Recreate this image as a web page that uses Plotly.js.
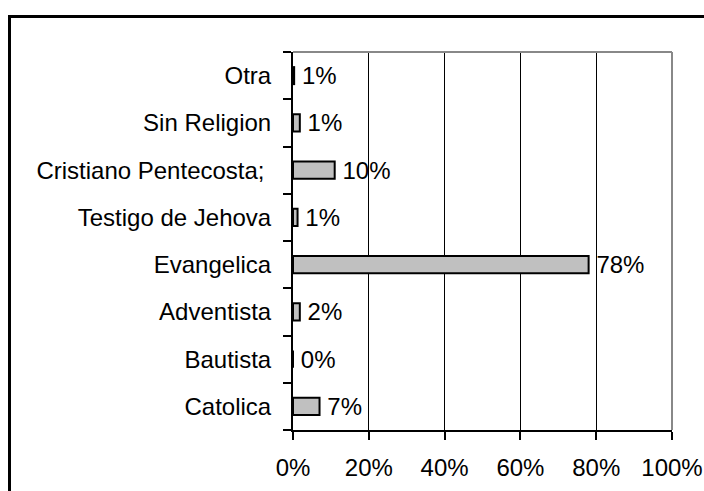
<!DOCTYPE html>
<html><head><meta charset="utf-8">
<script src="https://cdn.plot.ly/plotly-3.0.1.min.js"></script>
<style>
html,body{margin:0;padding:0;background:#fff;overflow:hidden;}
#wrap{position:relative;width:704px;height:491px;}
#chart{position:absolute;left:0;top:0;width:704px;height:491px;}
#frame{position:absolute;left:8px;top:15px;width:720px;height:500px;border:3px solid #000;pointer-events:none;}
</style></head>
<body><div id="wrap"><div id="chart"></div><div id="frame"></div></div>
<script>
const categories = ["Catolica", "Bautista", "Adventista", "Evangelica", "Testigo de Jehova", "Cristiano Pentecosta;\u00a0", "Sin Religion", "Otra"];
const values = [7, 0, 1.8, 78, 1.2, 11, 1.8, 0.3];
const valueLabels = ["7%", "0%", "2%", "78%", "1%", "10%", "1%", "1%"];
const xTicks = [0, 20, 40, 60, 80, 100];
const xTickText = ["0%", "20%", "40%", "60%", "80%", "100%"];

const font = {family: "Liberation Sans, Arial, sans-serif", size: 24, color: "#000"};

Plotly.newPlot("chart", [{
  type: "bar",
  orientation: "h",
  y: categories,
  x: values,
  text: valueLabels,
  texttemplate: "\u2009%{text}",
  textposition: "outside",
  constraintext: "none",
  cliponaxis: false,
  textfont: font,
  marker: {color: "#c0c0c0", line: {color: "#000", width: 2}},
  hoverinfo: "none"
}], {
  width: 704, height: 491,
  margin: {l: 293, r: 32, t: 52, b: 61},
  paper_bgcolor: "#fff", plot_bgcolor: "#fff",
  font: font,
  bargap: 0.64,
  showlegend: false,
  xaxis: {
    range: [0, 100], tickmode: "array", tickvals: xTicks, ticktext: xTickText,
    showgrid: true, gridcolor: "#000", gridwidth: 1,
    zeroline: false, showline: true, linecolor: "#000", linewidth: 2,
    ticks: "outside", ticklen: 8, tickcolor: "#000", tickwidth: 2,
    tickfont: font, ticklabelstandoff: 7, fixedrange: true
  },
  yaxis: {
    type: "category", showgrid: false, zeroline: false,
    showline: true, linecolor: "#000", linewidth: 2,
    ticks: "outside", ticklen: 8, tickcolor: "#000", tickwidth: 2,
    tickson: "boundaries", tickfont: font, ticklabelstandoff: 15,
    fixedrange: true
  },
  shapes: [
    {type: "line", xref: "paper", yref: "paper", x0: 0, x1: 1, y0: 1, y1: 1, line: {color: "#888", width: 2}},
    {type: "line", xref: "paper", yref: "paper", x0: 1, x1: 1, y0: 0, y1: 1, line: {color: "#888", width: 2}}
  ]
}, {displayModeBar: false, staticPlot: true});
</script></body></html>
